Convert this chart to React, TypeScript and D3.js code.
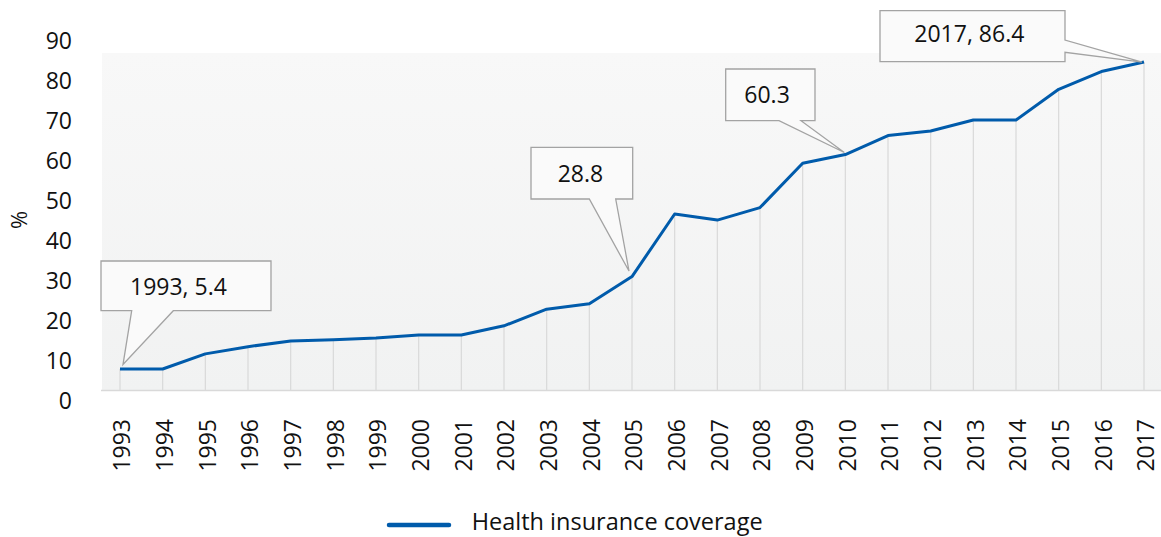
import React from "react";
import * as d3 from "d3";

const years = [1993,1994,1995,1996,1997,1998,1999,2000,2001,2002,2003,2004,2005,2006,2007,2008,2009,2010,2011,2012,2013,2014,2015,2016,2017];
const coverage = [5.4,5.4,9.4,11.3,12.8,13.1,13.6,14.4,14.4,16.8,21.2,22.6,29.8,46.3,44.7,48.0,59.7,62.0,67.0,68.2,71.1,71.1,79.2,83.9,86.4];
const yTicks = [0,10,20,30,40,50,60,70,80,90];
const seriesName = "Health insurance coverage";
const annotations = [
  { year: 1993, text: "1993, 5.4" },
  { year: 2005, text: "28.8" },
  { year: 2010, text: "60.3" },
  { year: 2017, text: "2017, 86.4" },
];

const W = 1161, H = 537;
const FONT = "'Open Sans', 'Noto Sans', sans-serif";
const LINE_COLOR = "#005bab";

export default function App() {
  const x = d3.scalePoint<number>().domain(years).range([120, 1144]);
  const y = d3.scaleLinear().domain([0, 90]).range([389.5, 48.4]);
  const yLab = d3.scaleLinear().domain([0, 90]).range([400.5, 40.5]);
  const plot = { x0: 102, x1: 1161, y0: 53, y1: 390.5 };

  const line = d3.line<number>()
    .x((_, i) => x(years[i])!)
    .y((d) => y(d));

  const pt = (yr: number) => {
    const i = years.indexOf(yr);
    return [x(yr)!, y(coverage[i])];
  };

  const p1 = pt(1993), p2 = pt(2005), p3 = pt(2010), p4 = pt(2017);
  const callouts = [
    { a: annotations[0], tx: 130, ty: 295,
      path: (t: number[]) => `M101,261H271V310.7H173.3L${t[0] + 3},${t[1] - 4.5}L131.7,310.7H101Z`, tip: p1 },
    { a: annotations[1], tx: 557.7, ty: 181.7,
      path: (t: number[]) => `M531,147.3H632.7V199H615.7L${t[0] - 3},${t[1] - 5.5}L589.3,199H531Z`, tip: p2 },
    { a: annotations[2], tx: 744.3, ty: 103.3,
      path: (t: number[]) => `M725.7,69H815V120.7H801L${t[0] - 1},${t[1] - 2}L779,120.7H725.7Z`, tip: p3 },
    { a: annotations[3], tx: 914.3, ty: 41.7,
      path: (t: number[]) => `M880,10.7H1065V40L${t[0] - 2},${t[1]}L1065,52.3V61.7H880Z`, tip: p4 },
  ];

  return (
    <svg width={W} height={H} style={{ display: "block", position: "absolute", left: 0, top: 0 }} fontFamily={FONT}>
      <defs>
        <linearGradient id="bg" x1="0" y1="0" x2="0" y2="1">
          <stop offset="0" stopColor="#f8f8f8" />
          <stop offset="1" stopColor="#f1f2f2" />
        </linearGradient>
      </defs>
      <rect x={0} y={0} width={W} height={H} fill="#ffffff" />
      <rect x={plot.x0} y={plot.y0} width={plot.x1 - plot.x0} height={plot.y1 - plot.y0} fill="url(#bg)" />
      {years.map((yr, i) => (
        <line key={yr} x1={x(yr)} x2={x(yr)} y1={y(coverage[i])} y2={plot.y1} stroke="#d9d9d9" strokeWidth={1.2} />
      ))}
      <line x1={plot.x0 - 1} x2={plot.x1} y1={plot.y1} y2={plot.y1} stroke="#d9d9d9" strokeWidth={1.5} />
      {yTicks.map((t) => (
        <text key={t} x={72} y={yLab(t)} dy="0.36em" textAnchor="end" fontSize={23} fill="#111">{t}</text>
      ))}
      <text transform={`translate(27,220) rotate(-90)`} textAnchor="middle" fontSize={22} fill="#111">%</text>
      {years.map((yr) => (
        <text key={yr} transform={`translate(${x(yr)! + 2},419) rotate(-90)`} dy="0.36em" textAnchor="end" fontSize={23} fill="#111">{yr}</text>
      ))}
      <path d={line(coverage) || ""} fill="none" stroke={LINE_COLOR} strokeWidth={3} strokeLinejoin="round" />
      {callouts.map((c, i) => (
        <g key={i}>
          <path d={c.path(c.tip)} fill="#fafafa" stroke="#a3a3a3" strokeWidth={1.3} />
          <text x={c.tx} y={c.ty} fontSize={23} fill="#111">{c.a.text}</text>
        </g>
      ))}
      <line x1={389} x2={449} y1={525} y2={525} stroke={LINE_COLOR} strokeWidth={4.5} strokeLinecap="round" />
      <text x={471.7} y={529.5} fontSize={23.5} fill="#111">{seriesName}</text>
    </svg>
  );
}
